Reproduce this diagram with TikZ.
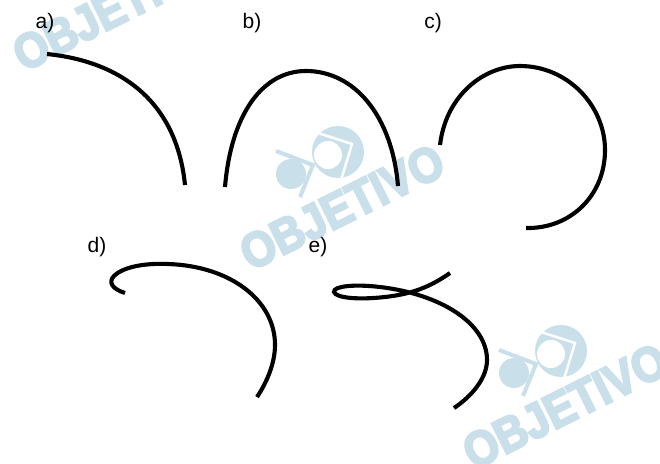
\documentclass[tikz,border=0pt]{standalone}
\usepackage{fontspec}
\setmainfont{Liberation Sans}
\newfontfamily\wmfont[FakeStretch=0.89,BoldFeatures={FakeBold=4.5}]{Liberation Sans}
\definecolor{wmblue}{HTML}{C9DFEA}
\tikzset{
	curve/.style={line width=4.1pt, line cap=butt, black},
	letter/.style={font=\fontsize{21}{23}\selectfont, inner sep=0pt, text=black},
	markname/.style={font=\wmfont\fontsize{49}{49}\selectfont\bfseries, text=wmblue, rotate=26.5, inner sep=0pt},
}
% watermark, placed with its logo
\newcommand{\wmark}[3]{
	\begin{scope}[shift={(#1,#2)}]
		\fill[wmblue] (0,0) circle (26);
		\draw[white, line width=2.5pt, miter limit=10] (-20,-19) -- (14,-8) -- (3,28);
		\fill[white] (-10,3) circle (14);
		\fill[wmblue] (-47,22) circle (15);
		\draw[wmblue, line width=4pt, miter limit=10] (-62,-1) -- (-25,13) -- (-38,45);
		\node[markname] (#3) at (4,55) {OBJETIVO};
	\end{scope}
}
\begin{document}
\begin{tikzpicture}[x=1pt,y=-1pt]
	\useasboundingbox (0,0) rectangle (660,463);
	\fill[white] (0,0) rectangle (660,463);

	%watermarks
	\wmark{111}{-47}{markA}
	\wmark{338}{152}{markB}
	\wmark{561}{351}{markC}

	%labels
	\node[letter] (labA) at (45,23) {a)};
	\node[letter] (labB) at (252,23) {b)};
	\node[letter] (labC) at (433,23) {c)};
	\node[letter] (labD) at (97,247) {d)};
	\node[letter] (labE) at (318,247) {e)};

	%curves
	\draw[curve] (47,54) .. controls (125,62) and (177,105) .. (185,185);
	\draw[curve] (225,187) .. controls (231,115) and (262,71) .. (306,71) .. controls (354,71) and (392,115) .. (398,186);
	\draw[curve] (440,145) .. controls (446,95) and (484,66) .. (520,66) .. controls (568,66) and (605,106) .. (605,150) .. controls (605,196) and (570,229) .. (526,228);
	\draw[curve] (125,293) .. controls (112,289) and (108,282) .. (114,276) .. controls (124,266) and (148,263) .. (168,264) .. controls (230,266) and (275,300) .. (275,345) .. controls (275,363) and (267,382) .. (257,397);
	\draw[curve] (450,273) .. controls (430,287) and (412,294) .. (385,297) .. controls (358,300) and (336,298) .. (334,292) .. controls (333,286) and (355,284) .. (380,287) .. controls (440,294) and (487,323) .. (487,360) .. controls (487,378) and (472,396) .. (454,408);
\end{tikzpicture}
\end{document}
